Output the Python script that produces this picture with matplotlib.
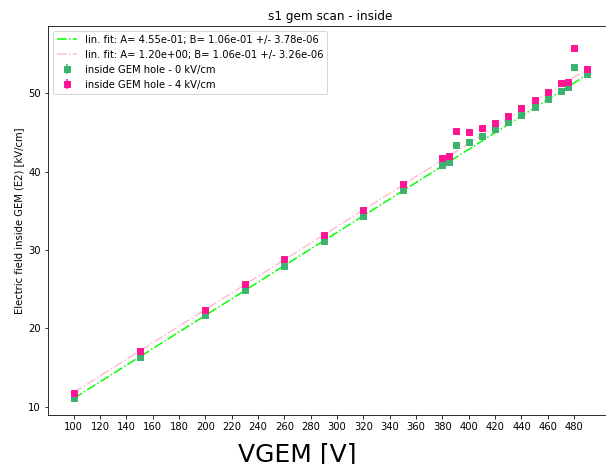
import numpy as np
import matplotlib
matplotlib.use('Agg')
import matplotlib.pyplot as plt

# GEM voltage scan points [V]
vgem = [100, 150, 200, 230, 260, 290, 320, 350, 380, 385, 390, 400,
        410, 420, 430, 440, 450, 460, 470, 475, 480, 490]

# field inside GEM hole, 0 kV/cm drift
e2_0kv = [11.15, 16.4, 21.67, 24.85, 28.0, 31.2, 34.4, 37.6, 40.87, 41.3, 43.4, 43.77,
          44.5, 45.42, 46.3, 47.25, 48.3, 49.34, 50.36, 50.87, 53.35, 52.5]
# field inside GEM hole, 4 kV/cm drift
e2_4kv = [11.79, 17.1, 22.35, 25.65, 28.8, 31.95, 35.15, 38.44, 41.72, 42.06, 45.2, 45.12,
          45.55, 46.27, 47.13, 48.1, 49.17, 50.15, 51.3, 51.5, 55.77, 53.13]

# fit results (A + B*V) from the legend
fit_0kv = (4.55e-01, 1.06e-01, 3.78e-06)
fit_4kv = (1.20e+00, 1.06e-01, 3.26e-06)

xticks = np.arange(100, 500, 20)

fig = plt.figure(figsize=(606/72, 464/72), dpi=72)
ax = fig.add_axes([0.0792, 0.1056, 0.9323, 0.8384])

x = np.array(vgem)
A, B, dB = fit_0kv
ax.plot(x, A + B*x, '-.', color='lime', lw=1.5,
        label='lin. fit: A= %.2e; B= %.2e +/- %.2e' % (A, B, dB))
A, B, dB = fit_4kv
ax.plot(x, A + B*x, '-.', color='pink', lw=1.5,
        label='lin. fit: A= %.2e; B= %.2e +/- %.2e' % (A, B, dB))

ax.errorbar(vgem, e2_0kv, yerr=0.1, fmt='s', color='mediumseagreen', ms=6.5,
            label='inside GEM hole - 0 kV/cm')
ax.errorbar(vgem, e2_4kv, yerr=0.1, fmt='s', color='deeppink', ms=6.5,
            label='inside GEM hole - 4 kV/cm')

ax.set_xlim(80.5, 509.5)
ax.set_ylim(8.94, 58.6)
ax.set_xticks(xticks)
ax.set_title('s1 gem scan - inside')
ax.set_ylabel('Electric field inside GEM (E2) [kV/cm]')
ax.set_xlabel('VGEM [V]', fontsize=25, va='top')
ax.xaxis.set_label_coords(0.4407, -0.07)
ax.legend(loc='upper left')

fig.savefig('out.png', dpi=72)
